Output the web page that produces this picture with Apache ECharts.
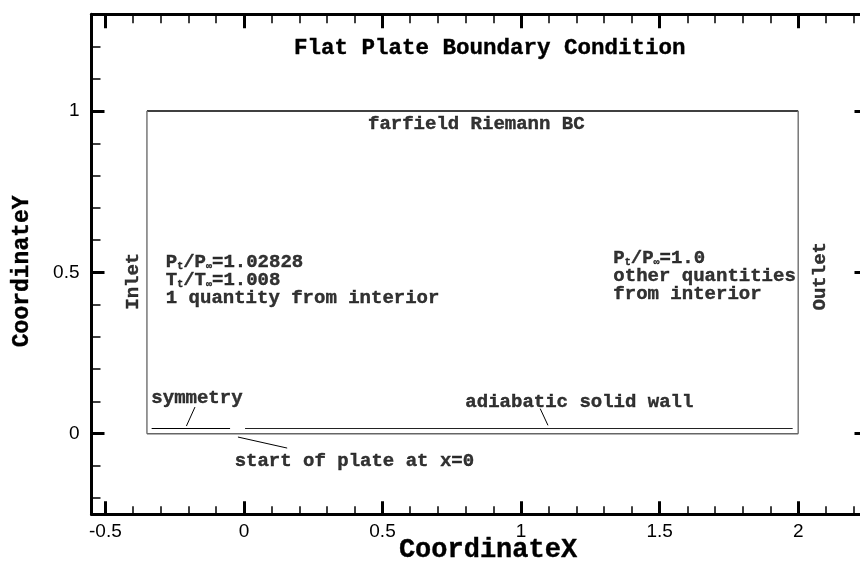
<!DOCTYPE html>
<html>
<head>
<meta charset="utf-8">
<style>
  html, body { margin: 0; padding: 0; background: #fff; }
  #chart { width: 860px; height: 562px; }
</style>
<script src="https://cdn.jsdelivr.net/npm/echarts@6/dist/echarts.min.js"></script>
</head>
<body>
<div id="chart"></div>
<script>
// Axis extents and tick values
const xRange = [-0.55, 2.25];
const yRange = [-0.25, 1.3];
const xMajorTicks = [-0.5, 0, 0.5, 1, 1.5, 2];
const xMinorTicks = [-0.5, -0.4, -0.3, -0.2, -0.1, 0, 0.1, 0.2, 0.3, 0.4, 0.5, 0.6, 0.7, 0.8, 0.9, 1,
                     1.1, 1.2, 1.3, 1.4, 1.5, 1.6, 1.7, 1.8, 1.9, 2, 2.1, 2.2];
const yMajorTicks = [0, 0.5, 1];
const yMinorTicks = [-0.2, -0.1, 0, 0.1, 0.2, 0.3, 0.4, 0.5, 0.6, 0.7, 0.8, 0.9, 1, 1.1, 1.2];

// Computational domain outline
const domainTop = [[-0.35, 1], [2, 1]];
const domainLeft = [[-0.35, 0], [-0.35, 1]];
const domainRight = [[2, 0], [2, 1]];
const domainBottom = [[-0.35, 0], [2, 0]];

// Boundary segments along the lower edge
const symmetryLine = [[-0.333, 0.016], [-0.05, 0.016]];
const wallLine = [[0.004, 0.016], [1.98, 0.016]];

// Leader lines from labels to boundaries
const symmetryLeader = [[-0.2075, 0.0236], [-0.1766, 0.0825]];
const plateStartLeader = [[-0.0216, -0.0105], [0.156, -0.0447]];
const wallLeader = [[1.069, 0.0776], [1.097, 0.0258]];

// Text annotations: anchor point and text
const leftAnchored = [
  { pos: [-0.282, 0.4756], key: 'inlet' },
  { pos: [1.333, 0.488], key: 'outlet' },
  { pos: [0.4476, 0.960], key: 'farfield' },
  { pos: [-0.334, 0.1095], key: 'symmetry' },
  { pos: [0.799, 0.098], key: 'wall' },
  { pos: [-0.0335, -0.086], key: 'plate' }
];
const sideLabels = [
  { pos: [-0.398, 0.4725], text: 'Inlet' },
  { pos: [2.078, 0.488], text: 'Outlet' }
];

const MONO = '"Liberation Mono", "Courier New", monospace';
const SANS = '"Liberation Sans", Arial, Helvetica, sans-serif';

const texts = {
  inlet: '{b|P}{s|t}{b|/P}{s|∞}{b|=1.02828}\n{b|T}{s|t}{b|/T}{s|∞}{b|=1.008}\n{b|1 quantity from interior}',
  outlet: '{b|P}{s|t}{b|/P}{s|∞}{b|=1.0}\n{b|other quantities}\n{b|from interior}',
  farfield: '{b|farfield Riemann BC}',
  symmetry: '{b|symmetry}',
  wall: '{b|adiabatic solid wall}',
  plate: '{b|start of plate at x=0}'
};

const INK = { color: '#000', textBorderColor: '#000', textBorderWidth: 0.4 };

const richStyles = {
  b: Object.assign({ fontFamily: MONO, fontWeight: 'bold', fontSize: 19, lineHeight: 18 }, INK),
  s: Object.assign({ fontFamily: MONO, fontWeight: 'bold', fontSize: 10, lineHeight: 1, verticalAlign: 'bottom' }, INK)
};

function segment(points, color, width, type) {
  return {
    type: 'line',
    data: points,
    symbol: 'none',
    silent: true,
    animation: false,
    lineStyle: { color: color, width: width, type: type || 'solid' },
    z: 3
  };
}

function tickAxis(kind, position, range, ticks, len, width, withLine, labels) {
  const ax = {
    type: 'value',
    position: position,
    min: range[0],
    max: range[1],
    splitLine: { show: false },
    axisLine: { show: withLine, onZero: false, lineStyle: { color: '#000', width: 3 } },
    axisTick: { show: true, inside: true, length: len, customValues: ticks,
                lineStyle: { color: '#000', width: width } },
    axisLabel: { show: false },
    z: 5
  };
  if (labels) {
    ax.axisLabel = {
      show: true, customValues: ticks, color: '#000', fontFamily: SANS, fontSize: 19,
      margin: kind === 'x' ? 8 : 12
    };
  }
  return ax;
}

const chart = echarts.init(document.getElementById('chart'), null, { renderer: 'canvas' });

const xMain = tickAxis('x', 'bottom', xRange, xMajorTicks, 13, 3, true, true);
xMain.name = 'CoordinateX';
xMain.nameLocation = 'middle';
xMain.nameGap = 22;
xMain.nameMoveOverlap = false;
xMain.nameTextStyle = Object.assign({
  fontFamily: MONO, fontWeight: 'bold', fontSize: 27, padding: [0, 0, 0, 17]
}, INK);

const yMain = tickAxis('y', 'left', yRange, yMajorTicks, 13, 3, true, true);
yMain.name = 'CoordinateY';
yMain.nameLocation = 'middle';
yMain.nameGap = 58;
yMain.nameMoveOverlap = false;
yMain.nameRotate = 90;
yMain.nameTextStyle = Object.assign({
  fontFamily: MONO, fontWeight: 'bold', fontSize: 23, padding: [0, 14, 0, 0]
}, INK);

const option = {
  backgroundColor: '#fff',
  animation: false,
  title: {
    text: 'Flat Plate Boundary Condition',
    left: 289,
    top: 32,
    textStyle: Object.assign({ fontFamily: MONO, fontWeight: 'bold', fontSize: 22.5 }, INK)
  },
  grid: { left: 91.5, top: 14.3, width: 776, height: 500, containLabel: false, outerBoundsMode: 'none' },
  xAxis: [
    xMain,
    tickAxis('x', 'bottom', xRange, xMinorTicks, 8, 1.5, false, false),
    tickAxis('x', 'top', xRange, xMajorTicks, 14, 3, true, false),
    tickAxis('x', 'top', xRange, xMinorTicks, 9, 1.5, false, false)
  ],
  yAxis: [
    yMain,
    tickAxis('y', 'left', yRange, yMinorTicks, 9, 1.5, false, false),
    tickAxis('y', 'right', yRange, yMajorTicks, 13, 3, true, false),
    tickAxis('y', 'right', yRange, yMinorTicks, 7, 1.5, false, false)
  ],
  series: [
    segment(domainTop, '#000', 1.5),
    segment(domainLeft, '#777', 1.5),
    segment(domainRight, '#777', 1.5),
    segment(domainBottom, '#666', 1.5),
    segment(symmetryLine, '#000', 1.2),
    segment(wallLine, '#222', 1.2),
    segment(symmetryLeader, '#000', 1),
    segment(plateStartLeader, '#000', 1),
    segment(wallLeader, '#000', 1),
    {
      type: 'scatter',
      symbolSize: 0,
      silent: true,
      animation: false,
      z: 6,
      data: leftAnchored.map(function (a) {
        return { value: a.pos, key: a.key };
      }),
      label: {
        show: true,
        position: 'right',
        distance: 0,
        formatter: function (p) { return texts[p.data.key]; },
        rich: richStyles
      }
    },
    {
      type: 'scatter',
      symbolSize: 0,
      silent: true,
      animation: false,
      z: 6,
      data: sideLabels.map(function (a) {
        return { value: a.pos, name: a.text };
      }),
      label: Object.assign({
        show: true,
        position: 'inside',
        rotate: 90,
        formatter: '{b}',
        fontFamily: MONO,
        fontWeight: 'bold',
        fontSize: 19
      }, INK)
    }
  ]
};

chart.setOption(option);
</script>
</body>
</html>
